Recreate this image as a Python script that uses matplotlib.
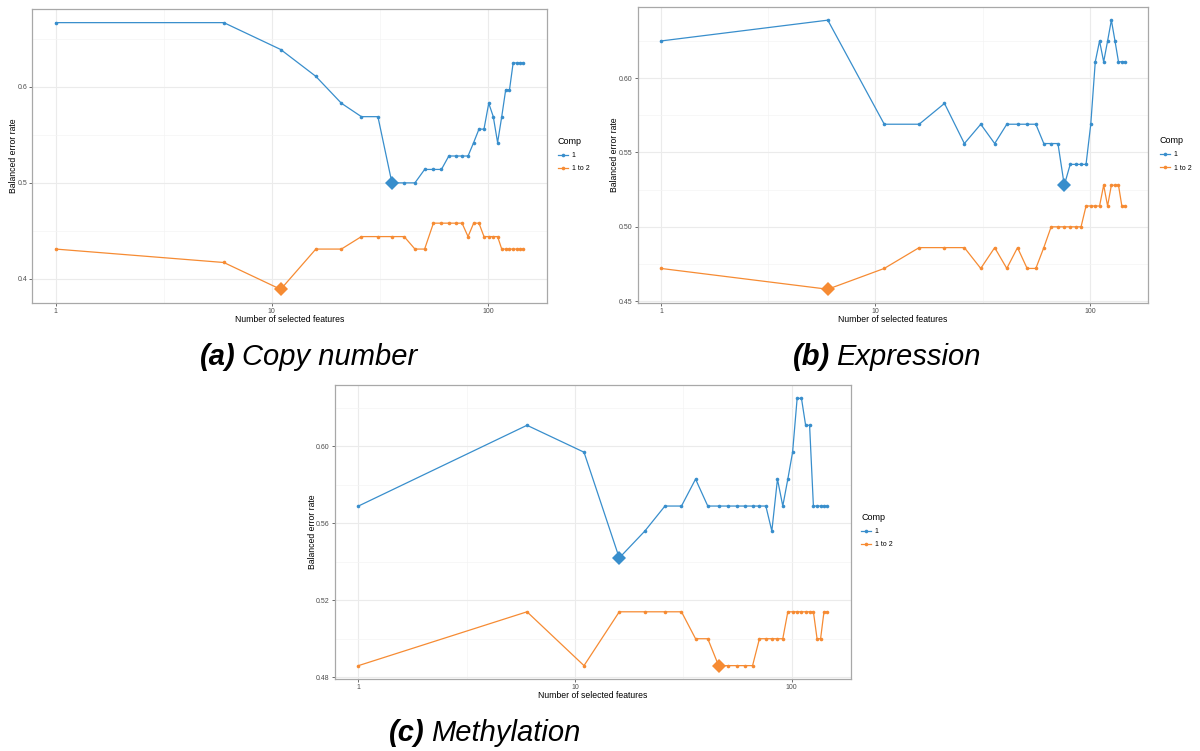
import matplotlib
matplotlib.use("Agg")
import matplotlib.pyplot as plt
from matplotlib.lines import Line2D
from matplotlib.ticker import FixedLocator, NullFormatter

# ---------------- data ----------------
x_feats = [1, 6, 11, 16, 21, 26, 31, 36, 41, 46, 51, 56, 61, 66, 71,
           76, 81, 86, 91, 96, 101, 106, 111, 116, 121, 126, 131, 136, 141, 146]

cn_comp1 = [0.667, 0.667, 0.639, 0.611, 0.583, 0.569, 0.569, 0.500, 0.500, 0.500,
            0.514, 0.514, 0.514, 0.528, 0.528, 0.528, 0.528, 0.542, 0.556, 0.556,
            0.583, 0.569, 0.542, 0.569, 0.597, 0.597, 0.625, 0.625, 0.625, 0.625]
cn_comp12 = [0.431, 0.417, 0.389, 0.431, 0.431, 0.444, 0.444, 0.444, 0.444, 0.431,
             0.431, 0.458, 0.458, 0.458, 0.458, 0.458, 0.444, 0.458, 0.458, 0.444,
             0.444, 0.444, 0.444, 0.431, 0.431, 0.431, 0.431, 0.431, 0.431, 0.431]

ex_comp1 = [0.625, 0.639, 0.569, 0.569, 0.583, 0.556, 0.569, 0.556, 0.569, 0.569,
            0.569, 0.569, 0.556, 0.556, 0.556, 0.528, 0.542, 0.542, 0.542, 0.542,
            0.569, 0.611, 0.625, 0.611, 0.625, 0.639, 0.625, 0.611, 0.611, 0.611]
ex_comp12 = [0.472, 0.458, 0.472, 0.486, 0.486, 0.486, 0.472, 0.486, 0.472, 0.486,
             0.472, 0.472, 0.486, 0.500, 0.500, 0.500, 0.500, 0.500, 0.500, 0.514,
             0.514, 0.514, 0.514, 0.528, 0.514, 0.528, 0.528, 0.528, 0.514, 0.514]

me_comp1 = [0.569, 0.611, 0.597, 0.542, 0.556, 0.569, 0.569, 0.583, 0.569, 0.569,
            0.569, 0.569, 0.569, 0.569, 0.569, 0.569, 0.556, 0.583, 0.569, 0.583,
            0.597, 0.625, 0.625, 0.611, 0.611, 0.569, 0.569, 0.569, 0.569, 0.569]
me_comp12 = [0.486, 0.514, 0.486, 0.514, 0.514, 0.514, 0.514, 0.500, 0.500, 0.486,
             0.486, 0.486, 0.486, 0.486, 0.500, 0.500, 0.500, 0.500, 0.500, 0.514,
             0.514, 0.514, 0.514, 0.514, 0.514, 0.514, 0.500, 0.500, 0.514, 0.514]

# selected (optimal) number of features per component, shown as diamonds
cn_opt = [36, 11]
ex_opt = [76, 6]
me_opt = [16, 46]

series_labels = ["1", "1 to 2"]
x_ticks = [1, 10, 100]
x_ticklabels = ["1", "10", "100"]
cn_yticks = [0.4, 0.5, 0.6]
cn_yticklabels = ["0.4", "0.5", "0.6"]
ex_yticks = [0.45, 0.50, 0.55, 0.60]
ex_yticklabels = ["0.45", "0.50", "0.55", "0.60"]
me_yticks = [0.48, 0.52, 0.56, 0.60]
me_yticklabels = ["0.48", "0.52", "0.56", "0.60"]

captions = [("(a)", "Copy number"), ("(b)", "Expression"), ("(c)", "Methylation")]

# ---------------- style ----------------
COLORS = ["#388ECC", "#F68B33"]
FONT = "Liberation Sans"
plt.rcParams["font.family"] = [FONT, "DejaVu Sans"]

W, H = 1200, 751
fig = plt.figure(figsize=(W / 100, H / 100), dpi=100)
fig.patch.set_facecolor("white")


def px_axes(left, right, top, bottom):
    return fig.add_axes([left / W, 1 - bottom / H, (right - left) / W, (bottom - top) / H])


def draw_panel(ax, comp1, comp12, opt, yticks, yticklabels, ylab_x, legend_xy):
    for ys, c, o in zip([comp1, comp12], COLORS, opt):
        ax.plot(x_feats, ys, color=c, lw=0.9, marker="o", ms=2.6,
                markeredgewidth=0, zorder=3)
        i = x_feats.index(o)
        ax.plot([x_feats[i]], [ys[i]], marker="D", ms=7.5, color=c,
                markeredgewidth=0, zorder=4)
    ax.set_xscale("log")
    ax.margins(x=0.05, y=0.05)
    ax.xaxis.set_major_locator(FixedLocator(x_ticks))
    ax.set_xticklabels(x_ticklabels)
    ax.xaxis.set_minor_locator(FixedLocator([10 ** 0.5, 10 ** 1.5, 10 ** 2.5]))
    ax.xaxis.set_minor_formatter(NullFormatter())
    ax.set_yticks(yticks)
    ax.set_yticklabels(yticklabels)
    ymin, ymax = ax.get_ylim()
    step = yticks[1] - yticks[0]
    minor = [yticks[0] - step / 2 + k * step for k in range(len(yticks) + 2)]
    ax.yaxis.set_minor_locator(FixedLocator(minor))
    ax.set_ylim(ymin, ymax)
    ax.grid(which="major", color="#EBEBEB", lw=0.8, zorder=0)
    ax.grid(which="minor", color="#F4F4F4", lw=0.5, zorder=0)
    ax.set_axisbelow(True)
    for s in ax.spines.values():
        s.set_color("#A8A8A8")
        s.set_linewidth(0.9)
    ax.tick_params(which="major", length=2.2, width=0.6, color="#555555",
                   labelsize=5.0, labelcolor="#4D4D4D", pad=1.5)
    ax.tick_params(which="minor", length=0)
    ax.set_xlabel("Number of selected features", fontsize=6.2, color="black")
    ax.set_ylabel("Balanced error rate", fontsize=6.2, color="black")
    ax.xaxis.set_label_coords(0.5, -0.042)
    ax.yaxis.label.set_verticalalignment("center")
    ax.yaxis.set_label_coords(ylab_x, 0.5)
    handles = [Line2D([0], [0], color=c, lw=0.9, marker="o", ms=2.6,
                      markeredgewidth=0) for c in COLORS]
    leg = fig.legend(handles, series_labels, title="Comp", loc="upper left",
                     bbox_to_anchor=(legend_xy[0] / W, 1 - legend_xy[1] / H),
                     frameon=False, fontsize=5.0, title_fontsize=6.5,
                     handlelength=1.4, handletextpad=0.6, borderpad=0,
                     borderaxespad=0, labelspacing=0.9)
    leg._legend_box.align = "left"


ax_a = px_axes(32.3, 546.7, 9.3, 302.7)
draw_panel(ax_a, cn_comp1, cn_comp12, cn_opt, cn_yticks, cn_yticklabels, -0.0375, (558, 137))

ax_b = px_axes(637.7, 1148.3, 6.7, 302.7)
draw_panel(ax_b, ex_comp1, ex_comp12, ex_opt, ex_yticks, ex_yticklabels, -0.0464, (1160, 136))

ax_c = px_axes(335, 850.7, 385, 679)
draw_panel(ax_c, me_comp1, me_comp12, me_opt, me_yticks, me_yticklabels, -0.0427, (861, 513))

# captions
cap_pos = [(236, 357), (830, 357), (425, 733)]
for (lab, name), (cx, cy) in zip(captions, cap_pos):
    fig.text(cx / W, 1 - cy / H, lab, ha="right", va="center", fontsize=21,
             fontweight="bold", fontstyle="italic", color="black")
    fig.text((cx + 6) / W, 1 - cy / H, name, ha="left", va="center", fontsize=21,
             fontstyle="italic", color="black")

fig.savefig("out.png", dpi=100, facecolor="white")
